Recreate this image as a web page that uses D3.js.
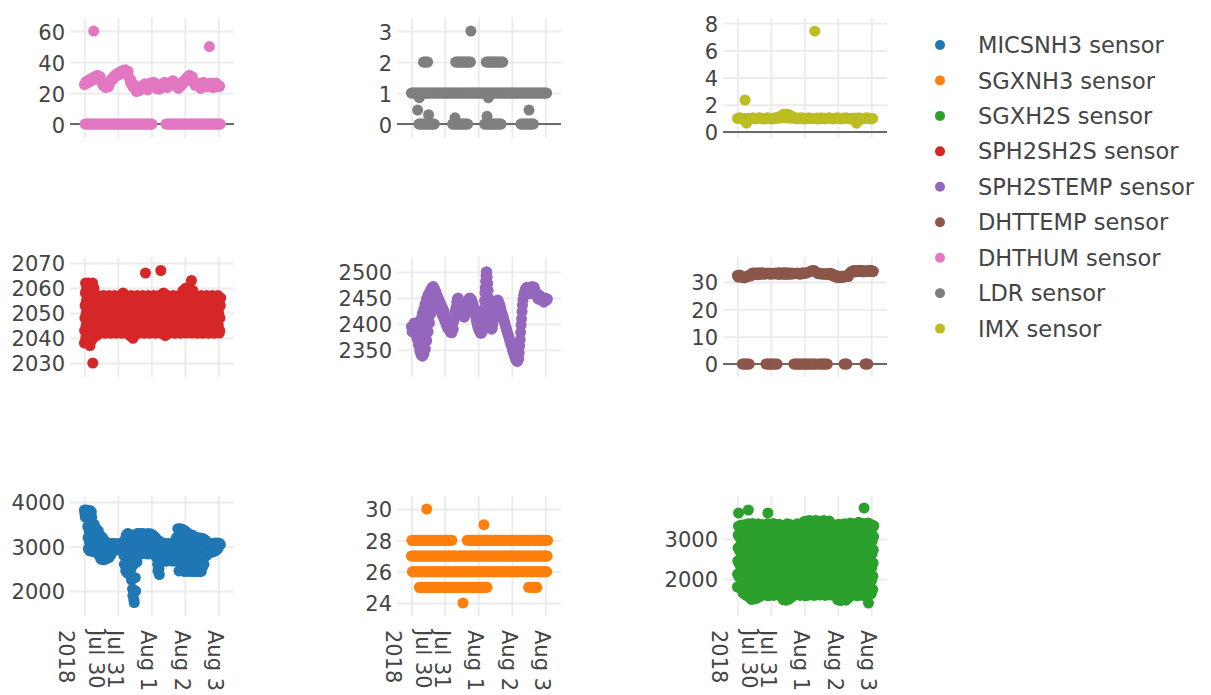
<!DOCTYPE html>
<html>
<head>
<meta charset="utf-8">
<script src="https://cdn.jsdelivr.net/npm/d3@7"></script>
<style>
  body { margin: 0; background: #fff; }
  svg { display: block; font-family: "DejaVu Sans", Verdana, sans-serif; }
</style>
</head>
<body>
<svg id="chart" width="1211" height="695"></svg>
<script>
// Sensor readings grouped by hour, starting 2018-07-30 00:00 UTC.
// Each inner array holds the readings logged during that hour.
const startTime = Date.UTC(2018, 6, 30, 0, 0);

const sensorNames = ["MICSNH3 sensor", "SGXNH3 sensor", "SGXH2S sensor", "SPH2SH2S sensor",
  "SPH2STEMP sensor", "DHTTEMP sensor", "DHTHUM sensor", "LDR sensor", "IMX sensor"];

const micsnh3 = [
  [3820, 3740, 3660], [3780, 3700, 3820], [3800, 3680, 3450, 3200, 2950], [3760, 3650, 3350, 3100, 2900], [3810, 3700, 3500, 3250, 3000],
  [3780, 3660, 3400, 3150, 2920], [3450, 3250, 3050, 2880], [3500, 3300, 3100, 2900], [3420, 3200, 3000, 2870], [3380, 3150, 2950, 2850],
  [3350, 3100, 2900, 2800], [3250, 3050, 2850, 2720], [3230, 3000, 2800, 2710], [3200, 2980, 2760, 2700], [3150, 2950, 2750],
  [3100, 2900, 2720], [3080, 2950, 2780], [3060, 2900, 2750], [3050, 2930, 2800], [3070, 2950, 2850],
  [3060, 2940], [3070, 2960], [3050, 2930], [3060, 2950], [3040, 2930],
  [3070, 2940], [3050, 2960], [3060, 2930], [3070, 2800, 2600], [3150, 2900, 2450],
  [3250, 3000, 2700, 2400], [3290, 3050, 2800, 2600], [3280, 3000, 2750], [3250, 2950, 2500, 2250], [3200, 2900, 2050, 1900],
  [3150, 2600, 1800, 1740], [3200, 2800, 2300, 2000], [3270, 3000, 2650], [3290, 3050, 2800], [3280, 3050, 2850],
  [3290, 3100, 2900], [3270, 3050, 2850], [3290, 3080, 2880], [3260, 3040, 2840], [3280, 3060, 2860],
  [3250, 3030, 2830], [3290, 3070, 2870], [3270, 3050, 2840], [3280, 3060, 2880], [3250, 3020, 2830],
  [3230, 3000, 2850], [3200, 2950, 2750], [3150, 2900, 2600, 2450], [3100, 2800, 2500, 2370], [3120, 2900, 2650],
  [3070, 2900, 2750], [3050, 2870, 2700], [3070, 2880, 2680], [3060, 2860, 2670], [3040, 2850, 2690],
  [3070, 2890, 2700], [3050, 2860, 2680], [3060, 2880, 2700], [3070, 2870, 2670], [3050, 2860, 2690],
  [3080, 2890, 2700], [3200, 2950, 2700], [3400, 3150, 2900, 2650, 2450], [3380, 3150, 2900, 2700, 2480], [3400, 3180, 2950, 2700, 2460],
  [3390, 3140, 2920, 2680, 2450], [3370, 3130, 2900, 2660, 2440], [3350, 3100, 2880, 2650, 2450], [3330, 3100, 2860, 2640, 2460], [3300, 3080, 2850, 2630, 2440],
  [3280, 3060, 2840, 2620, 2450], [3250, 3050, 2830, 2640, 2440], [3260, 3040, 2820, 2620, 2450], [3240, 3030, 2810, 2630, 2440], [3200, 2980, 2760, 2560, 2440],
  [3180, 2970, 2750, 2550, 2450], [3200, 2990, 2770, 2570, 2440], [3170, 2960, 2740, 2540, 2450], [3190, 2980, 2760, 2560, 2440], [3160, 2950, 2740, 2550],
  [3180, 2960, 2760, 2600], [3150, 2940, 2780], [3140, 2950, 2800], [3070, 2930, 2870], [3060, 2950, 2880],
  [3070, 2940, 2870], [3050, 2960, 2880], [3060, 2940, 2890], [3070, 2970, 2900], [3080, 2990, 2920],
  [3070, 3000, 2950], [3080, 3020], [3070, 3040]
];

const sgxnh3 = [
  [27, 28, 26], [28, 26, 27], [26, 27, 28], [27, 28, 26], [28, 27, 26],
  [26, 28, 27, 25], [25, 27, 26, 28], [27, 25, 28, 26], [28, 26, 25, 27], [27, 28, 26, 25],
  [25, 26, 28, 27], [30, 26, 25, 27, 28], [26, 27, 28, 25], [28, 25, 27, 26], [27, 26, 25, 28],
  [25, 28, 26, 27], [26, 27, 28, 25], [27, 25, 26, 28], [28, 26, 27, 25], [26, 28, 25, 27],
  [25, 27, 28, 26], [26, 25, 27, 28], [25, 28, 26, 27], [28, 27, 25, 26], [27, 26, 28, 25],
  [25, 28, 27, 26], [28, 25, 26, 27], [26, 27, 25, 28], [27, 28, 26, 25], [28, 26, 25, 27],
  [25, 26, 27], [26, 27, 25], [27, 25, 26], [25, 26, 27], [26, 25, 27],
  [27, 26, 25], [25, 27, 26], [24, 26, 25, 27], [26, 27, 25], [27, 25, 26],
  [28, 25, 26, 27], [25, 27, 28, 26], [26, 28, 25, 27], [27, 26, 28, 25], [28, 25, 27, 26],
  [25, 26, 28, 27], [27, 28, 26, 25], [26, 25, 27, 28], [28, 27, 25, 26], [27, 26, 28, 25],
  [25, 28, 26, 27], [26, 27, 25, 28], [29, 27, 28, 25, 26], [25, 26, 27, 28], [27, 25, 28, 26],
  [28, 26, 27], [26, 27, 28], [27, 28, 26], [28, 26, 27], [26, 28, 27],
  [27, 26, 28], [28, 27, 26], [26, 27, 28], [28, 26, 27], [27, 28, 26],
  [26, 27, 28], [28, 26, 27], [27, 28, 26], [26, 28, 27], [27, 26, 28],
  [28, 27, 26], [26, 28, 27], [27, 26, 28], [28, 27, 26], [26, 27, 28],
  [28, 26, 27], [27, 28, 26], [26, 27, 28], [27, 26, 28], [28, 27, 26],
  [26, 28, 27], [27, 26, 28], [28, 27, 26], [26, 28, 27], [25, 27, 26, 28],
  [27, 25, 28, 26], [28, 26, 25, 27], [26, 28, 27, 25], [25, 27, 26, 28], [27, 25, 28, 26],
  [25, 26, 27, 28], [26, 28, 27], [28, 27, 26], [27, 26, 28], [26, 28, 27],
  [28, 27, 26], [27, 28, 26], [26, 27, 28]
];

const sgxh2s = [
  [1800, 2120, 2450, 2780, 3100, 3320, 3650], [1790, 2050, 2380, 2710, 3040, 3300], [1820, 2200, 2530, 2860, 3190, 3350], [1760, 2090, 2420, 2750, 3080, 3330], [1650, 1960, 2290, 2620, 2950, 3280],
  [1720, 2060, 2390, 2720, 3050, 3360], [1600, 1930, 2260, 2590, 2920, 3250], [1750, 2080, 2410, 2740, 3070, 3380, 3725], [1560, 1900, 2230, 2560, 2890, 3220], [1700, 2040, 2370, 2700, 3030, 3340],
  [1490, 1840, 2170, 2500, 2830, 3160, 3390], [1650, 1990, 2320, 2650, 2980, 3300], [1500, 1850, 2180, 2510, 2840, 3170, 3350], [1680, 2010, 2340, 2670, 3000, 3320], [1520, 1870, 2200, 2530, 2860, 3190, 3380],
  [1700, 2030, 2360, 2690, 3020, 3310], [1560, 1890, 2220, 2550, 2880, 3210], [1720, 2050, 2380, 2710, 3040, 3360], [1600, 1930, 2260, 2590, 2920, 3250], [1740, 2070, 2400, 2730, 3060, 3340],
  [1620, 1950, 2280, 2610, 2940, 3270], [1760, 2090, 2420, 2750, 3080, 3380, 3650], [1580, 1910, 2240, 2570, 2900, 3230], [1720, 2050, 2380, 2710, 3040, 3330], [1610, 1940, 2270, 2600, 2930, 3260],
  [1750, 2080, 2410, 2740, 3070, 3390], [1590, 1920, 2250, 2580, 2910, 3240], [1730, 2060, 2390, 2720, 3050, 3350], [1620, 1950, 2280, 2610, 2940, 3270], [1770, 2100, 2430, 2760, 3090, 3370],
  [1600, 1930, 2260, 2590, 2920, 3250], [1700, 2030, 2360, 2690, 3020, 3320], [1540, 1880, 2210, 2540, 2870, 3200], [1480, 1800, 2130, 2460, 2790, 3120, 3350], [1650, 1980, 2310, 2640, 2970, 3300],
  [1470, 1790, 2120, 2450, 2780, 3110, 3380], [1620, 1960, 2290, 2620, 2950, 3280], [1500, 1830, 2160, 2490, 2820, 3150, 3360], [1680, 2010, 2340, 2670, 3000, 3320], [1550, 1880, 2210, 2540, 2870, 3200],
  [1700, 2030, 2360, 2690, 3020, 3340], [1600, 1930, 2260, 2590, 2920, 3250], [1740, 2070, 2400, 2730, 3060, 3380], [1620, 1950, 2280, 2610, 2940, 3270], [1760, 2090, 2420, 2750, 3080, 3360],
  [1590, 1920, 2250, 2580, 2910, 3240], [1730, 2060, 2390, 2720, 3050, 3390], [1610, 1940, 2270, 2600, 2930, 3260, 3440], [1750, 2080, 2410, 2740, 3070, 3400], [1580, 1910, 2240, 2570, 2900, 3230, 3450],
  [1720, 2050, 2380, 2710, 3040, 3370], [1600, 1930, 2260, 2590, 2920, 3250, 3460], [1760, 2090, 2420, 2750, 3080, 3410], [1620, 1950, 2280, 2610, 2940, 3270, 3440], [1740, 2070, 2400, 2730, 3060, 3390],
  [1590, 1920, 2250, 2580, 2910, 3240, 3460], [1710, 2040, 2370, 2700, 3030, 3360], [1630, 1960, 2290, 2620, 2950, 3280, 3450], [1770, 2100, 2430, 2760, 3090, 3420], [1600, 1930, 2260, 2590, 2920, 3250, 3440],
  [1730, 2060, 2390, 2720, 3050, 3380], [1620, 1950, 2280, 2610, 2940, 3270, 3460], [1750, 2080, 2410, 2740, 3070, 3400], [1590, 1920, 2250, 2580, 2910, 3240, 3430], [1720, 2050, 2380, 2710, 3040, 3370],
  [1610, 1940, 2270, 2600, 2930, 3260, 3450], [1760, 2090, 2420, 2750, 3080, 3390], [1600, 1930, 2260, 2590, 2920, 3250], [1740, 2070, 2400, 2730, 3060, 3340], [1620, 1950, 2280, 2610, 2940, 3270],
  [1700, 2030, 2360, 2690, 3020, 3350], [1560, 1890, 2220, 2550, 2880, 3210], [1480, 1810, 2140, 2470, 2800, 3130, 3370], [1650, 1980, 2310, 2640, 2970, 3300], [1460, 1790, 2120, 2450, 2780, 3110, 3340],
  [1620, 1950, 2280, 2610, 2940, 3270], [1500, 1830, 2160, 2490, 2820, 3150, 3380], [1680, 2010, 2340, 2670, 3000, 3320], [1470, 1800, 2130, 2460, 2790, 3120, 3350], [1640, 1970, 2300, 2630, 2960, 3290],
  [1540, 1870, 2200, 2530, 2860, 3190, 3400], [1700, 2030, 2360, 2690, 3020, 3340], [1600, 1930, 2260, 2590, 2920, 3250], [1740, 2070, 2400, 2730, 3060, 3380], [1620, 1950, 2280, 2610, 2940, 3270],
  [1760, 2090, 2420, 2750, 3080, 3360], [1580, 1910, 2240, 2570, 2900, 3230, 3420], [1720, 2050, 2380, 2710, 3040, 3350], [1610, 1940, 2270, 2600, 2930, 3260], [1750, 2080, 2410, 2740, 3070, 3390],
  [1590, 1920, 2250, 2580, 2910, 3240, 3775], [1730, 2060, 2390, 2720, 3050, 3380], [1620, 1950, 2280, 2610, 2940, 3270], [1760, 2090, 2420, 2750, 3080, 3400], [1400, 1600, 1930, 2260, 2590, 2920, 3250],
  [1710, 2040, 2370, 2700, 3030, 3360], [1630, 1960, 2290, 2620, 2950, 3280], [1740, 2070, 2400, 2730, 3060, 3330]
];

const sph2sh2s = [
  [2038, 2043, 2048, 2053, 2058, 2062], [2040, 2045, 2050, 2055, 2060, 2041], [2039, 2044, 2049, 2054, 2059, 2062], [2041, 2046, 2051, 2056, 2061, 2038], [2037, 2042, 2047, 2052, 2057, 2061],
  [2039, 2044, 2049, 2054, 2059, 2062], [2030, 2040, 2045, 2050, 2055, 2060], [2042, 2047, 2052, 2057], [2044, 2050, 2055, 2041], [2043, 2048, 2053, 2057],
  [2045, 2049, 2054, 2042], [2042, 2047, 2052, 2056], [2044, 2050, 2055, 2043], [2043, 2048, 2053, 2057], [2045, 2050, 2054, 2042],
  [2042, 2047, 2052, 2056], [2044, 2049, 2055, 2043], [2043, 2048, 2053, 2057], [2045, 2050, 2054, 2042], [2042, 2047, 2051, 2056],
  [2044, 2049, 2054, 2043], [2043, 2048, 2053, 2057], [2045, 2050, 2055, 2042], [2042, 2047, 2052, 2056], [2044, 2049, 2054, 2043],
  [2043, 2048, 2053, 2057], [2045, 2050, 2055, 2042], [2042, 2047, 2052, 2058], [2044, 2049, 2054, 2043], [2043, 2048, 2053, 2057],
  [2045, 2050, 2055, 2042], [2042, 2047, 2052, 2056], [2044, 2049, 2054, 2041], [2041, 2047, 2052, 2057], [2043, 2049, 2054, 2040],
  [2040, 2046, 2051, 2056], [2044, 2049, 2054, 2042], [2043, 2048, 2053, 2057], [2045, 2050, 2055, 2042], [2042, 2047, 2052, 2056],
  [2044, 2049, 2054, 2043], [2043, 2048, 2053, 2057], [2045, 2050, 2055, 2042], [2042, 2047, 2052, 2056, 2066], [2044, 2049, 2054, 2043],
  [2043, 2048, 2053, 2057], [2045, 2050, 2055, 2042], [2042, 2047, 2052, 2056], [2044, 2049, 2054, 2043], [2043, 2048, 2053, 2057],
  [2045, 2050, 2055, 2042], [2042, 2047, 2052, 2056], [2044, 2049, 2054, 2043], [2043, 2048, 2053, 2057], [2045, 2050, 2055, 2042, 2067],
  [2042, 2047, 2052, 2057], [2044, 2049, 2054, 2058], [2042, 2047, 2052, 2057], [2041, 2046, 2051, 2055], [2043, 2048, 2053, 2057],
  [2045, 2050, 2055, 2042], [2042, 2047, 2052, 2056], [2044, 2049, 2054, 2043], [2043, 2048, 2053, 2057], [2045, 2050, 2055, 2042],
  [2042, 2047, 2052, 2056], [2044, 2049, 2054, 2043], [2043, 2048, 2053, 2057], [2045, 2050, 2055, 2042], [2042, 2047, 2052, 2057],
  [2044, 2049, 2054, 2059], [2043, 2048, 2053, 2058], [2045, 2050, 2055, 2060], [2042, 2047, 2052, 2057], [2044, 2049, 2054, 2059],
  [2043, 2048, 2053, 2058], [2045, 2050, 2055, 2063], [2042, 2047, 2052, 2059], [2044, 2049, 2054, 2057], [2043, 2048, 2053, 2057],
  [2045, 2050, 2055, 2042], [2042, 2047, 2052, 2056], [2044, 2049, 2054, 2043], [2043, 2048, 2053, 2057], [2045, 2050, 2055, 2042],
  [2042, 2047, 2052, 2056], [2044, 2049, 2054, 2043], [2043, 2048, 2053, 2057], [2045, 2050, 2055, 2042], [2042, 2047, 2052, 2056],
  [2044, 2049, 2054, 2043], [2043, 2048, 2053, 2057], [2045, 2050, 2055, 2042], [2042, 2047, 2052, 2056], [2044, 2049, 2054, 2043],
  [2043, 2048, 2053, 2057], [2045, 2050, 2055, 2042], [2043, 2048, 2053, 2056]
];

const sph2stemp = [
  [2395, 2385], [2388, 2398], [2402, 2392], [2380, 2390], [2372, 2385, 2395],
  [2360, 2380, 2400], [2348, 2370, 2392, 2410], [2340, 2362, 2385, 2405, 2420], [2338, 2360, 2382, 2405, 2428], [2342, 2365, 2390, 2415, 2438],
  [2352, 2375, 2400, 2425, 2448], [2368, 2392, 2415, 2438, 2455], [2385, 2408, 2430, 2450, 2460], [2402, 2425, 2445, 2465], [2420, 2440, 2458, 2470],
  [2440, 2455, 2472], [2452, 2468], [2448, 2462], [2442, 2455], [2436, 2448],
  [2430, 2442], [2425, 2436], [2418, 2430], [2412, 2424], [2405, 2416],
  [2398, 2410], [2392, 2404], [2388, 2398], [2384, 2394], [2383, 2392],
  [2390, 2405], [2412, 2425], [2432, 2442], [2448, 2450], [2446, 2440],
  [2436, 2430], [2426, 2420], [2418, 2414], [2413, 2418], [2422, 2430],
  [2436, 2442], [2446, 2449], [2450, 2446], [2447, 2442], [2440, 2434],
  [2430, 2422], [2416, 2408], [2402, 2396], [2392, 2388], [2386, 2383],
  [2382, 2384], [2386, 2395, 2405], [2415, 2430, 2445, 2460], [2470, 2482, 2493, 2500], [2500, 2490, 2478],
  [2465, 2450, 2436], [2424, 2412, 2400], [2394, 2390], [2392, 2400], [2408, 2418],
  [2428, 2436], [2440, 2445], [2446, 2442], [2440, 2435], [2430, 2424],
  [2420, 2416], [2412, 2406], [2402, 2396], [2392, 2386], [2382, 2378],
  [2374, 2368], [2364, 2360], [2356, 2350], [2346, 2342], [2338, 2334],
  [2331, 2329], [2328, 2330], [2334, 2345, 2358], [2370, 2384, 2398], [2410, 2424, 2436],
  [2446, 2455], [2460, 2465], [2468, 2470], [2470, 2466], [2462, 2458],
  [2460, 2468], [2470, 2472], [2468, 2470], [2471, 2466], [2462, 2458],
  [2455, 2450], [2448, 2452], [2455, 2450], [2446, 2448], [2450, 2446],
  [2442, 2446], [2450, 2448], [2446, 2448]
];

const dhttemp = [
  [32.4, 31.8], [32, 32.6], [31.8, 32.3], [32.2, 0], [31.6, 0],
  [31.5, 0], [31.7, 0], [32, 0], [32.3, 0], [32.6, 32.2],
  [32.8, 33.2], [33, 33.3], [33.2, 32.8], [32.9, 33.3], [33.1, 32.7],
  [33.3, 32.9], [33, 33.4], [32.8, 33.2], [33, 33.3], [33.2, 32.9],
  [32.9, 0], [33.1, 0], [33.3, 0], [33, 0], [32.8, 0],
  [33.2, 0], [33, 0], [33.3, 0], [32.9, 0], [33.1, 33.4],
  [32.8, 33.2], [33.2, 32.9], [33, 33.4], [32.9, 33.2], [33.3, 32.8],
  [33.1, 33.4], [32.8, 33.2], [33.2, 32.9], [33, 33.3], [32.9, 33.2],
  [33, 0], [33.2, 0], [33.1, 0], [33.3, 0], [33, 0],
  [32.8, 0], [33.2, 0], [33.4, 0], [33.1, 0], [33.3, 0],
  [33.4, 0], [33.6, 0], [33.8, 0], [34, 0], [34.2, 0],
  [34.2, 0], [33.8, 0], [33.5, 33.2], [33.2, 0], [33, 0],
  [32.9, 0], [33.1, 0], [32.8, 0], [33, 0], [32.9, 0],
  [32.7, 33.1], [32.8, 33.2], [32.6, 33], [32.4, 32.8], [32.2, 32.6],
  [32, 32.4], [31.8, 32.2], [31.6, 32], [31.7, 32.1], [31.6, 31.9],
  [31.7, 32.2], [31.8, 0], [31.9, 0], [32.1, 0], [32.4, 32],
  [32.8, 33.2], [33.3, 33.7], [33.6, 34], [33.8, 34.2], [34, 33.7],
  [34.1, 33.8], [34.2, 33.9], [33.9, 34.3], [34.1, 33.8], [33.8, 34.2],
  [34, 33.7], [33.9, 0], [34.1, 0], [33.8, 0], [34, 34.3],
  [33.9, 34.2], [34.1, 33.8], [34, 33.9]
];

const dhthum = [
  [25.5, 0], [26, 27.5, 0], [26.5, 0], [27, 28.5, 0], [27.5, 0],
  [28, 29.5, 0], [28.5, 0, 60], [29, 30.5, 0], [29.5, 0], [30, 31.5, 0],
  [29.5, 0], [29, 30.5, 0], [27.5, 0], [26.5, 25, 0], [25.5, 0],
  [25, 23.5, 0], [25, 0], [25.5, 24, 0], [26.5, 0], [27.5, 29, 0],
  [28.5, 0], [29.5, 31, 0], [30.5, 0], [31, 32.5, 0], [31.5, 0],
  [32, 33.5, 0], [32.5, 0], [33, 34.5, 0], [33.5, 0], [34, 35, 0],
  [33.5, 0], [32.5, 34, 0], [30, 0], [27, 28.5, 0], [25, 0],
  [24, 25.5, 0], [23, 0], [22.5, 21, 0], [22, 0], [22.5, 21.5, 0],
  [23.5, 0], [24.5, 23, 0], [25, 0], [24.5, 26, 0], [24, 0],
  [23.5, 22, 0], [24, 0], [25, 26.5, 0], [25.5, 0], [26, 25, 27],
  [25.5, 24.5], [24.5, 25.5, 23], [24, 23], [23.5, 24.5, 22.5], [24, 23],
  [25, 24, 26], [25.5, 24.5], [26, 25, 27], [25.5, 0], [25, 23.5, 0],
  [24.5, 0], [25, 26.5, 0], [26, 0], [27, 28, 0], [27.5, 0],
  [26.5, 25, 0], [25.5, 0], [24.5, 23, 0], [24, 0], [24.5, 26, 0],
  [25.5, 0], [26.5, 28, 0], [27.5, 0], [28.5, 30, 0], [29.5, 0],
  [30.5, 31.5, 0], [30, 0], [29, 30.5, 0], [27.5, 0], [26.5, 25, 0],
  [25.5, 0], [25, 26.5, 0], [24.5, 0], [24.5, 23, 0], [25, 0],
  [25.5, 27, 0], [26, 0], [25.5, 24, 0], [25, 0], [24.5, 0, 50],
  [25, 26.5, 0], [25.5, 0], [25, 23.5, 0], [24.5, 0], [25, 26.5, 0],
  [25.5, 0], [25, 24, 0], [24.5, 0]
];

const ldr = [
  [1], [1], [1], [1], [1, 0.45],
  [1, 0, 0.85], [1, 0], [1, 0], [1, 0, 2], [1, 0, 2],
  [1, 0, 2], [1, 0, 2], [1, 0.3, 0], [1, 0], [1, 0],
  [1, 0], [1, 0], [1], [1], [1],
  [1], [1], [1], [1], [1],
  [1], [1], [1], [1], [1, 0],
  [1, 0], [1, 0.2, 0, 2], [1, 0, 2], [1, 0, 2], [1, 0, 2],
  [1, 0, 2], [1, 0, 2], [1, 0, 2], [1, 0, 2], [1, 0, 2],
  [1, 0, 2], [1, 2], [1, 2, 3], [1], [1],
  [1], [1], [1], [1], [1],
  [1], [1], [1, 0], [1, 0, 2], [1, 0.25, 0, 2],
  [1, 0.85, 0, 2], [1, 0, 2], [1, 0, 2], [1, 0, 2], [1, 0, 2],
  [1, 0, 2], [1, 0, 2], [1, 0, 2], [1, 0, 2], [1, 0, 2],
  [1, 2], [1], [1], [1], [1],
  [1], [1], [1], [1], [1],
  [1], [1], [1], [1, 0], [1, 0],
  [1, 0], [1, 0], [1, 0], [1, 0], [1, 0.45, 0],
  [1, 0], [1, 0], [1, 0], [1], [1],
  [1], [1], [1], [1], [1],
  [1], [1], [1]
];

const imx = [
  [1], [1.02], [1.05], [0.96], [1],
  [1, 2.35], [0.98, 0.65], [1], [0.95], [1],
  [1], [1.04], [1], [0.96], [1],
  [1.02], [1.05], [1], [0.98], [0.95],
  [1], [1.02], [1.05], [1], [0.98],
  [0.95], [1], [1.04], [1], [1.06],
  [1.02, 1.12], [1.04, 1.2], [1.05, 1.26], [1.08, 1.3], [1.04, 1.24],
  [1.06, 1.3], [1.03, 1.2], [1.05, 1.25], [1.02, 1.15], [1.04, 1.12],
  [1.02, 1.08], [1], [1], [0.96], [1],
  [1.04], [1], [1.02], [0.95], [1],
  [1], [1.04], [1], [0.98], [1],
  [1, 7.4], [1], [1.02], [0.95], [1],
  [1.04], [1], [1], [0.96], [1],
  [1.02], [1.05], [1], [0.98], [0.95],
  [1], [1.02], [1.05], [1], [0.96],
  [1], [1.02], [1], [1.04], [1],
  [1], [0.96], [1], [1.02], [1],
  [1, 0.65], [1], [1.04], [1], [1],
  [0.96], [1], [1.02], [1.05], [1],
  [1], [0.96], [1]
];

const sensorReadings = [micsnh3, sgxnh3, sgxh2s, sph2sh2s, sph2stemp, dhttemp, dhthum, ldr, imx];

// Shared x axis ticks (only the bottom row carries labels)
const xTickDates = [Date.UTC(2018, 6, 30), Date.UTC(2018, 6, 31), Date.UTC(2018, 7, 1),
  Date.UTC(2018, 7, 2), Date.UTC(2018, 7, 3)];
const xTickLabels = [["Jul 30", "2018"], ["Jul 31"], ["Aug 1"], ["Aug 2"], ["Aug 3"]];

// Subplot grid: sensor shown in each cell, row by row, with its y range and ticks
const gridSensors = ["DHTHUM sensor", "LDR sensor", "IMX sensor",
  "SPH2SH2S sensor", "SPH2STEMP sensor", "DHTTEMP sensor",
  "MICSNH3 sensor", "SGXNH3 sensor", "SGXH2S sensor"];
const gridYRanges = [[-9, 68.4], [-0.45, 3.42], [-0.44, 8.37],
  [2024.4, 2072.4], [2298, 2528.8], [-4.76, 39.15],
  [1438, 4135], [23.17, 30.83], [1075, 4075]];
const gridYTicks = [[0, 20, 40, 60], [0, 1, 2, 3], [0, 2, 4, 6, 8],
  [2030, 2040, 2050, 2060, 2070], [2350, 2400, 2450, 2500], [0, 10, 20, 30],
  [2000, 3000, 4000], [24, 26, 28, 30], [2000, 3000]];

// Layout
const HOUR = 3600e3, DAY = 24 * HOUR;
const colLeft = [70, 397, 723];
const rowTop = [18, 257, 496];
const plotW = 164, plotH = 120;
const markerR = 5.5;
const textColor = "#444";
const gridColor = "#ebebeb";
const tickFont = 21;
const legendFont = 22.5;
const color = d3.scaleOrdinal().domain(sensorNames).range(d3.schemeCategory10);

// flatten hourly groups into timestamped readings
function toPoints(groups) {
  const pts = [];
  groups.forEach((grp, h) => {
    grp.forEach((v, j) => pts.push({ t: startTime + (h + j / grp.length) * HOUR, v }));
  });
  return pts;
}

const svg = d3.select("#chart");

gridSensors.forEach((name, idx) => {
  const row = Math.floor(idx / 3), col = idx % 3;
  const left = colLeft[col], top = rowTop[row];
  const points = toPoints(sensorReadings[sensorNames.indexOf(name)]);

  const x = d3.scaleUtc()
    .domain([startTime - 0.43 * DAY, startTime + 4.47 * DAY])
    .range([left, left + plotW]);
  const y = d3.scaleLinear().domain(gridYRanges[idx]).range([top + plotH, top]);

  const g = svg.append("g");

  // vertical grid
  g.append("g")
    .attr("transform", `translate(0,${top + plotH})`)
    .call(d3.axisBottom(x).tickValues(xTickDates).tickSize(-plotH).tickFormat(""))
    .call(a => a.select(".domain").remove())
    .call(a => a.selectAll("line").attr("stroke", gridColor).attr("stroke-width", 1.8));

  // horizontal grid + tick labels
  g.append("g")
    .attr("transform", `translate(${left},0)`)
    .call(d3.axisLeft(y).tickValues(gridYTicks[idx]).tickSize(-plotW).tickPadding(5)
      .tickFormat(d3.format("d")))
    .call(a => a.select(".domain").remove())
    .call(a => a.selectAll("line").attr("stroke", gridColor).attr("stroke-width", 1.8))
    .call(a => a.selectAll("text")
      .attr("fill", textColor)
      .attr("font-size", tickFont)
      .attr("font-family", '"DejaVu Sans", Verdana, sans-serif')
      .attr("dy", "0.38em"));

  // zero line
  const [y0, y1] = gridYRanges[idx];
  if (y0 < 0 && y1 > 0) {
    g.append("line")
      .attr("x1", left).attr("x2", left + plotW)
      .attr("y1", y(0)).attr("y2", y(0))
      .attr("stroke", "#6a6a6a").attr("stroke-width", 2);
  }

  // readings
  g.append("g").selectAll("circle")
    .data(points)
    .join("circle")
    .attr("cx", d => x(d.t))
    .attr("cy", d => y(d.v))
    .attr("r", markerR)
    .attr("fill", color(name));

  // rotated date labels under the bottom row
  if (row === 2) {
    xTickDates.forEach((d, k) => {
      const lines = xTickLabels[k];
      const tx = x(d);
      const offsets = lines.length === 1 ? [-10] : [5, -25];
      lines.forEach((line, j) => {
        g.append("text")
          .attr("transform", `translate(${tx + offsets[j]},630) rotate(90)`)
          .attr("text-anchor", "start")
          .attr("font-size", tickFont)
          .attr("fill", textColor)
          .text(line);
      });
    });
  }
});

// legend
const legend = svg.append("g");
sensorNames.forEach((name, i) => {
  const ly = 45 + i * 35.45;
  legend.append("circle")
    .attr("cx", 940).attr("cy", ly).attr("r", 5)
    .attr("fill", color(name));
  legend.append("text")
    .attr("x", 978).attr("y", ly)
    .attr("dy", "0.36em")
    .attr("font-size", legendFont)
    .attr("fill", textColor)
    .text(name);
});
</script>
</body>
</html>
